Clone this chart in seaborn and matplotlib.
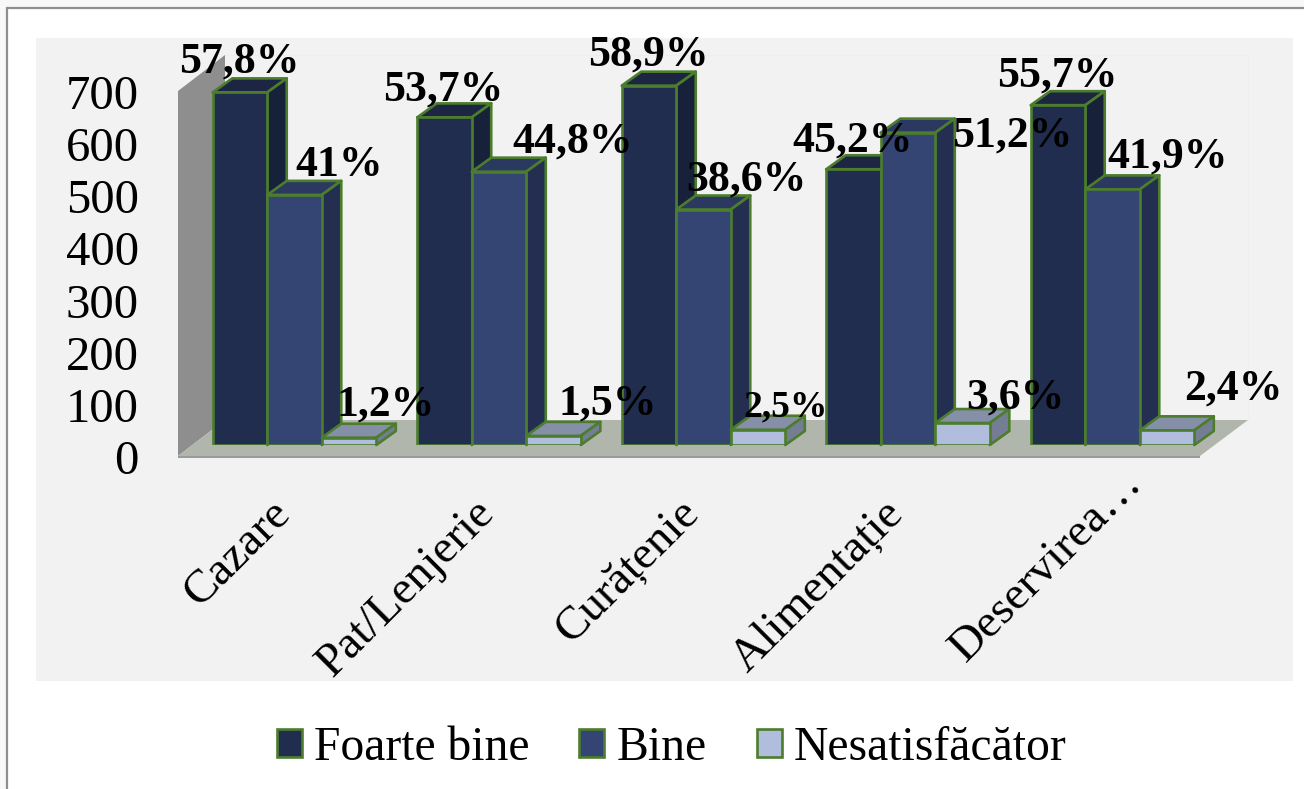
import matplotlib
matplotlib.use("Agg")
import matplotlib.pyplot as plt
import pandas as pd
import seaborn as sns
from matplotlib.lines import Line2D
from matplotlib.patches import Patch, Polygon, Rectangle
from matplotlib.transforms import ScaledTranslation

# Survey answers per service, in percent of all respondents
categories = ["Cazare", "Pat/Lenjerie", "Curățenie", "Alimentație", "Deservirea…"]
foarte_bine = [57.8, 53.7, 58.9, 45.2, 55.7]
bine = [41, 44.8, 38.6, 51.2, 41.9]
nesatisfacator = [1.2, 1.5, 2.5, 3.6, 2.4]
respondents = 1170
y_ticks = [0, 100, 200, 300, 400, 500, 600, 700]

series = {"Foarte bine": foarte_bine, "Bine": bine, "Nesatisfăcător": nesatisfacator}
front = {"Foarte bine": "#212d4e", "Bine": "#344473", "Nesatisfăcător": "#b0bddc"}
top = ["#1c2643", "#2b3961", "#858fa8"]
side = ["#18213a", "#232e51", "#757d94"]
EDGE = "#4c7d2d"
EDGE_W = 1.9
SERIF = ["Liberation Serif", "DejaVu Serif"]

W, H, DPI = 1304, 789, 100
LEFT, RIGHT, BASE, TOP = 192.25, 1214.75, 445, 80  # plot box in pixels
DEPTH_X, DEPTH_Y = 19.5, 14  # oblique offset of the bar depth, pixels

sns.set_theme(style="white")
plt.rcParams["font.family"] = SERIF

rows = [
    {"categorie": c, "serie": name, "pct": p, "respondenti": p * respondents / 100}
    for name, values in series.items()
    for c, p in zip(categories, values)
]
df = pd.DataFrame(rows)

fig = plt.figure(figsize=(W / DPI, H / DPI), dpi=DPI, facecolor="#f8f8f8")

# Page, chart area, side wall and floor live on a pixel-scaled backdrop
bg = fig.add_axes([0, 0, 1, 1], zorder=0)
bg.set_xlim(0, W)
bg.set_ylim(H, 0)
bg.axis("off")
bg.add_patch(Rectangle((7, 8), W, H, fc="white", ec="#8f8f8f", lw=1.6))
bg.add_patch(Rectangle((36, 38), 1257, 643, fc="#f2f2f2", ec="none"))
bg.add_patch(Polygon([(178, 91), (225, 55), (225, 420), (178, 456)], fc="#8e8e8e", ec="none"))
bg.add_patch(Polygon([(178, 456), (1200, 456), (1248, 420), (225, 420)], fc="#b1b6ac", ec="none"))
bg.add_patch(Rectangle((178, 456), 1022, 2.2, fc="#9a9a9a", ec="none"))
bg.add_line(Line2D([225, 1248, 1248], [55, 55, 420], color="#eeeeee", lw=0.8))

ax = fig.add_axes(
    [LEFT / W, 1 - BASE / H, (RIGHT - LEFT) / W, (BASE - TOP) / H], zorder=1
)
ax.patch.set_alpha(0)
sns.barplot(
    data=df, x="categorie", y="respondenti", hue="serie",
    order=categories, hue_order=list(series), palette=front,
    width=0.8, gap=0, saturation=1, edgecolor=EDGE, linewidth=EDGE_W,
    errorbar=None, legend=False, ax=ax,
)
ax.set_xlim(-0.5, 4.5)
ax.set_ylim(0, 700)
ax.set_xlabel("")
ax.set_ylabel("")
sns.despine(ax=ax, left=True, bottom=True)

# Depth expressed in data units so the extrusions follow the axes scales
ddx = DEPTH_X / ((RIGHT - LEFT) / 5)
ddy = DEPTH_Y / ((BASE - TOP) / 700)

for s, container in enumerate(ax.containers):
    for b, bar in enumerate(container):
        x0, x1 = bar.get_x(), bar.get_x() + bar.get_width()
        h = bar.get_height()
        z = 2 + b * 10 + s * 2
        bar.set_zorder(z + 1)
        ax.add_patch(Polygon(
            [(x0, h), (x1, h), (x1 + ddx, h + ddy), (x0 + ddx, h + ddy)],
            fc=top[s], ec=EDGE, lw=EDGE_W, zorder=z, clip_on=False, joinstyle="round",
        ))
        ax.add_patch(Polygon(
            [(x1, 0), (x1 + ddx, ddy), (x1 + ddx, h + ddy), (x1, h)],
            fc=side[s], ec=EDGE, lw=EDGE_W, zorder=z, clip_on=False, joinstyle="round",
        ))

# Pixel offsets of each value label from the top centre of its bar
label_offsets = [
    [(-1, 31), (-1, 28), (-1, 31), (-1, 29), (-1, 30)],
    [(45, 30), (74, 30), (43, 30), (104, -3), (55, 33)],
    [(37, 33), (54, 32), (28, 23), (53, 25), (66, 42)],
]
label_sizes = [
    [31.5, 31.5, 31.5, 31.5, 31.5],
    [31.5, 31.5, 31.5, 31.5, 31.5],
    [31.5, 31.5, 27, 31.5, 31.5],
]
for s, (name, container) in enumerate(zip(series, ax.containers)):
    for b, bar in enumerate(container):
        text = f"{series[name][b]:g}%".replace(".", ",")
        ax.annotate(
            text,
            (bar.get_x() + bar.get_width() / 2, bar.get_height()),
            xytext=label_offsets[s][b], textcoords="offset pixels",
            ha="center", va="center", fontsize=label_sizes[s][b],
            fontweight="bold", color="black", zorder=100,
            annotation_clip=False, family=SERIF,
        )

# Value axis sits on the front edge of the floor, 12 px below the bar bases
ax.set_yticks(y_ticks)
ax.tick_params(axis="y", length=0, pad=38.5, labelsize=35, labelcolor="black")
shift = ScaledTranslation(0, -12 / DPI, fig.dpi_scale_trans)
for label in ax.get_yticklabels():
    label.set_transform(label.get_transform() + shift)

ax.set_xticks(range(len(categories)))
ax.set_xticklabels(categories, rotation=45, ha="right", va="top", rotation_mode="anchor")
ax.tick_params(axis="x", length=0, pad=36, labelsize=34, labelcolor="black")
# Category names start left of their group; the truncated last one sits higher
name_shifts = [(-26, 3), (-26, 3), (-26, 3), (-26, 3), (8, 33)]
for label, (sx, sy) in zip(ax.get_xticklabels(), name_shifts):
    label.set_transform(label.get_transform() + ScaledTranslation(sx / DPI, sy / DPI, fig.dpi_scale_trans))

handles = [Patch(fc=front[n], ec=EDGE, lw=EDGE_W, label=n) for n in series]
fig.legend(
    handles=handles, loc="center", ncol=3, frameon=False,
    bbox_to_anchor=(671.5 / W, 1 - 748 / H), fontsize=34.3, labelcolor="black",
    handlelength=0.53, handleheight=0.53, handletextpad=0.25,
    columnspacing=1.05, borderpad=0, borderaxespad=0,
)

fig.savefig("out.png", dpi=DPI, facecolor=fig.get_facecolor())
